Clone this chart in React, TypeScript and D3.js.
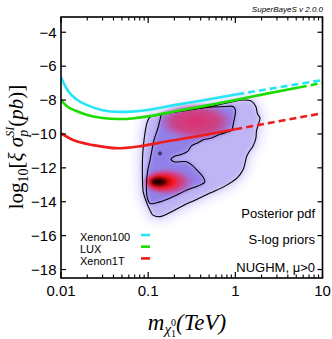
import React from "react";
import * as d3 from "d3";

type P = [number, number];

// ---------- data (mass in TeV, log10 sigma) ----------
const xTicks = [0.01, 0.1, 1, 10];
const xTickLabels = ["0.01", "0.1", "1", "10"];
const yTicks = [-18, -16, -14, -12, -10, -8, -6, -4];

const xenon100Solid: P[] = [
  [0.01, -6.66], [0.012, -7.45], [0.015, -7.95], [0.02, -8.3], [0.03, -8.6],
  [0.045, -8.7], [0.07, -8.67], [0.1, -8.58], [0.2, -8.3], [0.45, -8.0], [1.05, -7.66],
];
const xenon100Dashed: P[] = [[1.05, -7.66], [10, -6.82]];

const luxSolid: P[] = [
  [0.01, -8.0], [0.0116, -8.35], [0.015, -8.65], [0.02, -8.88], [0.03, -9.06],
  [0.045, -9.12], [0.07, -9.07], [0.1, -8.96], [0.2, -8.68], [0.436, -8.36],
  [1.0, -8.0], [2.3, -7.62], [5.5, -7.25],
];
const luxDashed: P[] = [[5.5, -7.25], [10, -6.98]];

const xenon1tSolid: P[] = [
  [0.01, -9.97], [0.0138, -10.36], [0.0235, -10.66], [0.045, -10.84], [0.076, -10.74],
  [0.16, -10.45], [0.4, -10.1], [1.0, -9.72],
];
const xenon1tDashed: P[] = [[1.0, -9.72], [10, -8.78]];

const contour95: P[] = [
  [0.105, -9.0], [0.1296, -8.9], [0.1826, -8.75], [0.286, -8.6], [0.436, -8.45],
  [0.615, -8.3], [0.9, -8.12], [1.222, -8.0], [1.55, -8.08], [1.722, -8.4],
  [1.792, -8.8], [1.915, -9.06], [1.84, -9.42], [1.746, -9.83], [1.722, -10.24],
  [1.592, -10.72], [1.432, -11.07], [1.341, -11.37], [1.288, -11.75], [1.222, -12.13],
  [1.043, -12.61], [0.76, -13.08], [0.511, -13.49], [0.344, -13.91], [0.244, -14.26],
  [0.178, -14.64], [0.1366, -14.88], [0.1135, -14.79], [0.105, -14.5], [0.0956, -14.02],
  [0.0879, -13.43], [0.086, -12.55], [0.086, -11.54], [0.0879, -10.77], [0.0919, -9.95],
  [0.0976, -9.3],
];

const contour68: P[] = [
  [0.144, -8.83], [0.1875, -8.71], [0.2786, -8.59], [0.393, -8.47], [0.553, -8.41],
  [0.78, -8.38], [0.939, -8.38], [1.003, -8.59], [0.989, -8.94], [0.951, -9.36],
  [0.907, -9.77], [0.78, -9.92], [0.666, -10.02], [0.511, -10.27], [0.436, -10.33],
  [0.3725, -10.52], [0.312, -10.72], [0.286, -11.01], [0.2396, -11.21], [0.2013, -11.31],
  [0.1826, -11.5], [0.1977, -11.64], [0.2763, -11.64], [0.318, -11.84], [0.363, -12.13],
  [0.425, -12.53], [0.448, -12.82], [0.393, -13.02], [0.2786, -13.31], [0.1925, -13.71],
  [0.1366, -14.01], [0.105, -14.1], [0.0969, -13.67], [0.0956, -13.02], [0.0982, -12.25],
  [0.105, -11.54], [0.1105, -10.95], [0.1165, -10.36], [0.1296, -9.65], [0.1366, -9.18],
];

const contourIslands: P[] = [[0.1366, -11.15]];

// posterior peak extents
const peakUpper = { massLo: 0.125, massHi: 1.0, sigLo: -10.4, sigHi: -8.15 };
const peakLower = { massLo: 0.086, massHi: 0.36, sigLo: -13.65, sigHi: -12.0, coreMass: 0.117 };

const legendNames = ["Xenon100", "LUX", "Xenon1T"];
const legendColors = ["#26e6f6", "#1edc00", "#ee1c1c"];
const annotations = ["Posterior pdf", "S-log priors", "NUGHM, μ>0"];

export default function App() {
  const left = 61, right = 322.5, top = 17, bottom = 278;
  const x = d3.scaleLog().domain([0.01, 10]).range([left, right]);
  const y = d3.scaleLinear().domain([-18.5, -3.1]).range([bottom, top]);

  const open = d3.line<P>().x((d) => x(d[0])).y((d) => y(d[1])).curve(d3.curveMonotoneX);
  const straight = d3.line<P>().x((d) => x(d[0])).y((d) => y(d[1]));
  const closed = d3.line<P>().x((d) => x(d[0])).y((d) => y(d[1])).curve(d3.curveCatmullRomClosed.alpha(0.5));

  const minor: number[] = [];
  [0.01, 0.1, 1].forEach((d) => { for (let k = 2; k <= 9; k++) minor.push(d * k); });

  const sans = "'Liberation Sans', Arial, Helvetica, sans-serif";
  const serif = "'Liberation Serif', 'Times New Roman', serif";

  const uX = x(peakUpper.massLo), uW = x(peakUpper.massHi) - uX;
  const uY = y(peakUpper.sigHi), uH = y(peakUpper.sigLo) - uY;
  const lX = x(peakLower.massLo), lW = x(peakLower.massHi) - lX;
  const lY = y(peakLower.sigHi), lH = y(peakLower.sigLo) - lY;
  const lFx = (x(peakLower.coreMass) - lX) / lW;

  const curves = [
    { solid: xenon100Solid, dashed: xenon100Dashed, color: legendColors[0] },
    { solid: luxSolid, dashed: luxDashed, color: legendColors[1] },
    { solid: xenon1tSolid, dashed: xenon1tDashed, color: legendColors[2] },
  ];

  const c95 = closed(contour95) ?? "";
  const c68 = closed(contour68) ?? "";

  return (
    <svg width={332} height={339} style={{ display: "block", position: "absolute", left: 0, top: 0 }}>
      <defs>
        <clipPath id="plot"><rect x={left} y={top} width={right - left} height={bottom - top} /></clipPath>
        <filter id="halo" x="-30%" y="-30%" width="160%" height="160%"><feGaussianBlur stdDeviation={5} /></filter>
        <filter id="soft" x="-20%" y="-20%" width="140%" height="140%"><feGaussianBlur stdDeviation={2.5} /></filter>
        <filter id="softer" x="-20%" y="-20%" width="140%" height="140%"><feGaussianBlur stdDeviation={1.5} /></filter>
        <radialGradient id="gUpper" cx="0.5" cy="0.5" r="0.5">
          <stop offset="0" stopColor="#e02c66" stopOpacity={0.95} />
          <stop offset="0.6" stopColor="#d23c7c" stopOpacity={0.88} />
          <stop offset="0.85" stopColor="#b85cb4" stopOpacity={0.5} />
          <stop offset="1" stopColor="#a070d8" stopOpacity={0} />
        </radialGradient>
        <radialGradient id="gLower" cx="0.5" cy="0.5" r="0.5" fx={lFx} fy="0.5">
          <stop offset="0" stopColor="#000000" stopOpacity={1} />
          <stop offset="0.2" stopColor="#200000" stopOpacity={1} />
          <stop offset="0.42" stopColor="#ff1010" stopOpacity={1} />
          <stop offset="0.7" stopColor="#e03070" stopOpacity={0.7} />
          <stop offset="1" stopColor="#a070d8" stopOpacity={0} />
        </radialGradient>
      </defs>

      <g clipPath="url(#plot)">
        <path d={c95} fill="#e4e0fd" stroke="#e4e0fd" strokeWidth={12} filter="url(#halo)" />
        <path d={c95} fill="#bfb5f5" filter="url(#soft)" />
        <path d={c68} fill="#9280e8" filter="url(#soft)" />
        <g filter="url(#softer)">
          <ellipse cx={uX + uW / 2} cy={uY + uH / 2} rx={uW / 2} ry={uH / 2} fill="url(#gUpper)" />
          <ellipse cx={lX + lW / 2} cy={lY + lH / 2} rx={lW / 2} ry={lH / 2} fill="url(#gLower)" />
        </g>

        <path d={c95} fill="none" stroke="#000" strokeWidth={1.1} />
        <path d={c68} fill="none" stroke="#000" strokeWidth={1.1} />
        {contourIslands.map((d, i) => (
          <circle key={i} cx={x(d[0])} cy={y(d[1])} r={1.4} fill="none" stroke="#000" strokeWidth={1} />
        ))}

        {curves.map((c, i) => (
          <g key={i}>
            <path d={open(c.solid) ?? ""} fill="none" stroke={c.color} strokeWidth={2.6} />
            <path d={straight(c.dashed) ?? ""} fill="none" stroke={c.color} strokeWidth={2.6} strokeDasharray="7,4" />
          </g>
        ))}
      </g>

      <rect x={left} y={top} width={right - left} height={bottom - top} fill="none" stroke="#000" strokeWidth={1.6} />

      {xTicks.map((t) => (
        <g key={"xt" + t}>
          <line x1={x(t)} x2={x(t)} y1={bottom} y2={bottom - 6} stroke="#000" strokeWidth={1.2} />
          <line x1={x(t)} x2={x(t)} y1={top} y2={top + 6} stroke="#000" strokeWidth={1.2} />
        </g>
      ))}
      {minor.map((t) => (
        <g key={"xm" + t}>
          <line x1={x(t)} x2={x(t)} y1={bottom} y2={bottom - 3.5} stroke="#000" strokeWidth={1.1} />
          <line x1={x(t)} x2={x(t)} y1={top} y2={top + 3.5} stroke="#000" strokeWidth={1.1} />
        </g>
      ))}
      {yTicks.map((t) => (
        <g key={"yt" + t}>
          <line x1={left} x2={left + 5} y1={y(t)} y2={y(t)} stroke="#000" strokeWidth={1.2} />
          <line x1={right} x2={right - 5} y1={y(t)} y2={y(t)} stroke="#000" strokeWidth={1.2} />
          <text x={56.5} y={y(t) + 5.3} textAnchor="end" fontFamily={sans} fontSize={15}>
            {"\u2212" + Math.abs(t)}
          </text>
        </g>
      ))}
      {xTicks.map((t, i) => (
        <text key={"xl" + t} x={x(t)} y={296} textAnchor="middle" fontFamily={sans} fontSize={15}>
          {xTickLabels[i]}
        </text>
      ))}

      <text transform="translate(23,147) rotate(-90)" textAnchor="middle" fontFamily={serif} fontSize={21}>
        <tspan>log</tspan>
        <tspan fontSize={14} dy={5}>10</tspan>
        <tspan dy={-5}>[</tspan>
        <tspan fontStyle="italic">ξ σ</tspan>
        <tspan fontStyle="italic" fontSize={14} dy={5}>p</tspan>
        <tspan fontStyle="italic" fontSize={12} dx={-7} dy={-14}>SI</tspan>
        <tspan dy={9}>(</tspan>
        <tspan fontStyle="italic">pb</tspan>
        <tspan>)]</tspan>
      </text>

      <text x={187} y={330} textAnchor="middle" fontFamily={serif} fontSize={23} fontStyle="italic">
        <tspan>m</tspan>
        <tspan fontSize={15} dy={4}>χ</tspan>
        <tspan fontSize={10} fontStyle="normal" dy={3}>1</tspan>
        <tspan fontSize={10} fontStyle="normal" dx={-5} dy={-11}>0</tspan>
        <tspan dy={4}>(TeV)</tspan>
      </text>

      {legendNames.map((n, i) => (
        <g key={n}>
          <text x={80} y={240.5 + i * 12.3} fontFamily={sans} fontSize={11}>{n}</text>
          <line x1={141} x2={150} y1={235 + i * 11.7} y2={235 + i * 11.7} stroke={legendColors[i]} strokeWidth={2.6} />
        </g>
      ))}

      {annotations.map((a, i) => (
        <text key={a} x={315} y={[217.5, 244, 271.5][i]} textAnchor="end" fontFamily={sans} fontSize={13}>{a}</text>
      ))}

      <text x={323} y={12} textAnchor="end" fontFamily={sans} fontSize={8} fontStyle="italic">SuperBayeS v 2.0.0</text>
    </svg>
  );
}
